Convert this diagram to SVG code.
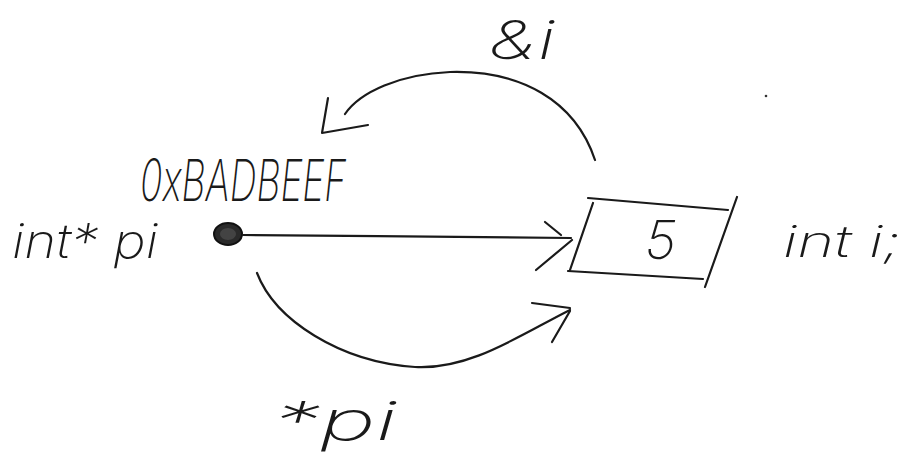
<svg xmlns="http://www.w3.org/2000/svg" width="907" height="468" viewBox="0 0 907 468">
  <style>
    .ink { fill: none; stroke: #1a1a1a; stroke-width: 2.2; stroke-linecap: round; stroke-linejoin: round; }
    .hand { font-family: "Inter", "Open Sans", "Liberation Sans", sans-serif; font-style: italic; font-weight: 200; fill: #1a1a1a; }
  </style>
  <rect width="907" height="468" fill="#ffffff"/>

  <!-- pointer variable: int* pi holding an address -->
  <g id="pointer">
    <text class="hand" x="12" y="258" font-size="48" textLength="146" lengthAdjust="spacingAndGlyphs">int* pi</text>
    <text class="hand" x="140" y="201" font-size="58" textLength="206" lengthAdjust="spacingAndGlyphs">0xBADBEEF</text>
    <ellipse cx="228" cy="234" rx="14" ry="11" fill="#2a2a2a" stroke="#111" stroke-width="2"/>
    <ellipse cx="228" cy="234" rx="8" ry="6" fill="#555" opacity="0.6"/>
  </g>

  <!-- the int variable i, holding 5 -->
  <g id="value">
    <path class="ink" d="M588 198 L728 210"/>
    <path class="ink" d="M737 197 L705 287"/>
    <path class="ink" d="M568 271 L703 279"/>
    <path class="ink" d="M593 203 L570 270"/>
    <text class="hand" x="645" y="259" font-size="54">5</text>
    <text class="hand" x="783" y="257" font-size="44" textLength="118" lengthAdjust="spacingAndGlyphs">int i;</text>
  </g>

  <!-- connectors -->
  <g id="connectors">
    <!-- pi points at i -->
    <path class="ink" d="M243 235 C350 236 470 237 571 238"/>
    <path class="ink" d="M545 222 L561 235"/>
    <path class="ink" d="M536 270 L572 240"/>

    <!-- &i : address-of, from i back to the pointer -->
    <path class="ink" d="M595 160 C575 100 520 70 450 72 C400 74 360 92 345 114"/>
    <path class="ink" d="M328 98 L322 133 L368 125"/>
    <text class="hand" x="489" y="59" font-size="54" textLength="66" lengthAdjust="spacingAndGlyphs">&amp;i</text>
    <circle cx="766" cy="96" r="1.3" fill="#333"/>

    <!-- *pi : dereference, from the pointer to i -->
    <path class="ink" d="M257 273 C275 320 340 362 415 367 C470 370 520 335 570 310"/>
    <path class="ink" d="M532 303 L570 308"/>
    <path class="ink" d="M552 342 L570 311"/>
    <text class="hand" x="273" y="440" font-size="54" textLength="124" lengthAdjust="spacingAndGlyphs">*pi</text>
  </g>
</svg>
